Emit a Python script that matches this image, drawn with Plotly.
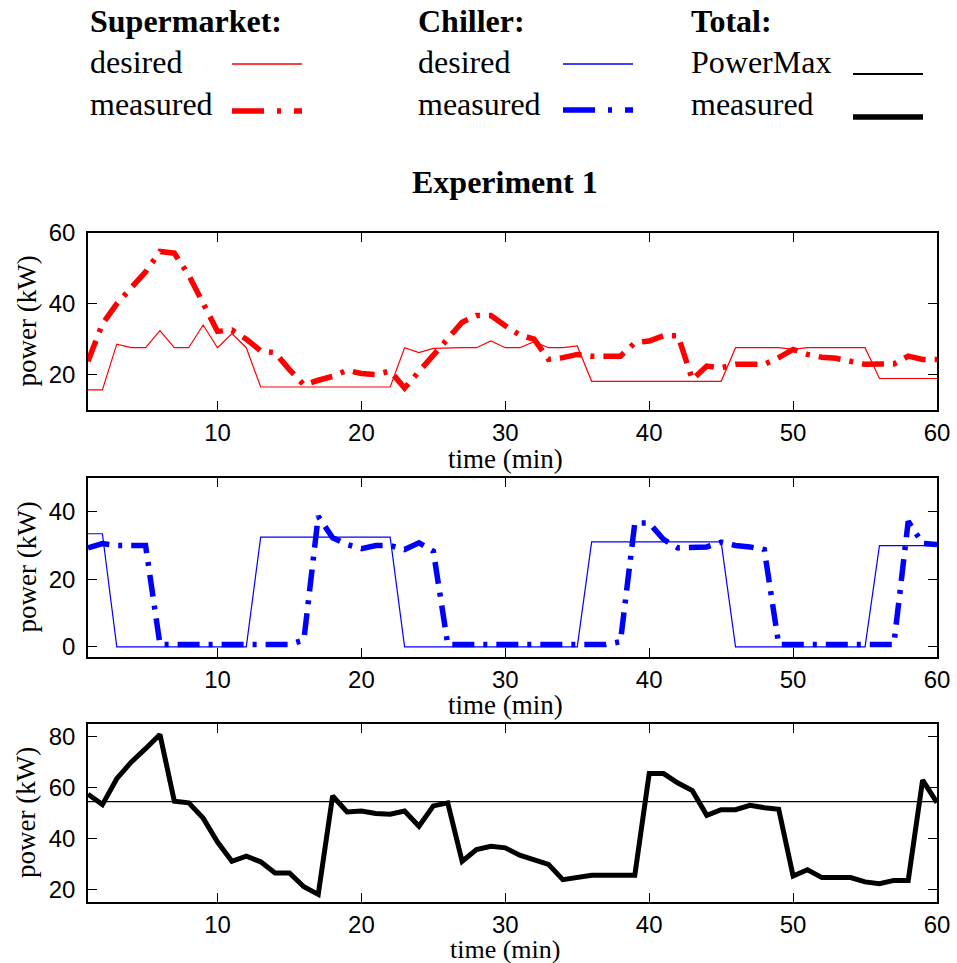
import plotly.graph_objects as go
from plotly.subplots import make_subplots

# time axis (min)
time_min = list(range(1, 61))

# supermarket power (kW)
sm_desired = [15.7, 15.7, 28.6, 27.6, 27.6, 32.4, 27.6, 27.6, 34.0, 27.6,
              31.6, 27.6, 16.5, 16.5, 16.5, 16.5, 16.5, 16.5, 16.5, 16.5,
              16.5, 16.5, 27.6, 26.2, 27.4, 27.6, 27.6, 27.6, 29.5, 27.6,
              27.6, 29.3, 27.6, 27.6, 28.1, 18.1, 18.1, 18.1, 18.1, 18.1,
              18.1, 18.1, 18.1, 18.1, 18.1, 27.6, 27.6, 27.6, 27.6, 27.1,
              27.6, 27.6, 27.6, 27.6, 27.6, 18.9, 18.9, 18.9, 18.9, 18.9]
sm_measured = [23.8, 34.3, 40.0, 44.8, 49.0, 54.8, 54.3, 48.1, 40.0, 32.2,
               32.6, 30.0, 26.7, 26.2, 21.4, 17.1, 18.4, 19.5, 21.2, 20.3,
               20.0, 21.0, 16.2, 21.0, 25.2, 30.5, 34.8, 36.7, 36.7, 33.8,
               31.2, 30.0, 24.3, 24.8, 25.7, 25.2, 25.2, 25.2, 29.0, 29.5,
               31.0, 31.0, 18.6, 22.4, 21.9, 22.9, 22.9, 22.9, 24.8, 27.1,
               25.7, 24.9, 24.6, 23.8, 22.9, 23.0, 23.0, 25.2, 24.3, 24.3]

# chiller power (kW)
ch_desired = [33.5, 33.5, 0.0, 0.0, 0.0, 0.0, 0.0, 0.0, 0.0, 0.0,
              0.0, 0.0, 32.5, 32.5, 32.5, 32.5, 32.5, 32.5, 32.5, 32.5,
              32.5, 32.5, 0.0, 0.0, 0.0, 0.0, 0.0, 0.0, 0.0, 0.0,
              0.0, 0.0, 0.0, 0.0, 0.0, 31.1, 31.1, 31.1, 31.1, 31.1,
              31.1, 31.1, 31.1, 31.1, 31.1, 0.0, 0.0, 0.0, 0.0, 0.0,
              0.0, 0.0, 0.0, 0.0, 0.0, 30.0, 30.0, 30.0, 30.0, 30.0]
ch_measured = [29.3, 30.6, 30.0, 30.0, 30.0, 0.7, 0.7, 0.7, 0.7, 0.7,
               0.7, 0.7, 0.7, 0.7, 0.7, 2.0, 38.7, 32.3, 30.3, 29.1,
               30.0, 30.0, 28.8, 30.8, 28.3, 0.7, 0.7, 0.7, 0.7, 0.7,
               0.7, 0.7, 0.7, 0.7, 0.7, 0.7, 0.7, 1.5, 36.7, 36.7,
               31.8, 29.3, 29.3, 29.6, 31.0, 30.0, 29.6, 28.8, 0.7, 0.7,
               0.7, 0.7, 0.7, 0.7, 0.7, 0.7, 0.7, 37.2, 30.6, 30.3]

# total power (kW)
total_measured = [57.4, 53.3, 63.5, 70.0, 75.3, 80.9, 54.6, 54.0, 48.0, 38.6,
                  31.0, 33.0, 30.8, 26.4, 26.4, 21.0, 18.0, 56.7, 50.4, 50.8,
                  49.8, 49.5, 50.8, 44.8, 52.8, 54.0, 31.0, 35.6, 36.9, 36.3,
                  33.4, 31.8, 29.8, 23.8, 24.5, 25.5, 25.5, 25.5, 25.5, 65.5,
                  65.5, 61.8, 58.8, 49.1, 51.3, 51.3, 53.0, 52.1, 51.5, 25.2,
                  27.7, 24.6, 24.6, 24.6, 22.9, 22.2, 23.5, 23.5, 62.9, 54.1]
power_max = 54.5

# body margin is removed in the page (post_script below), so the figure
# fills the whole window and positions are plain window pixels
W, H = 957, 963
SERIF = "Liberation Serif, Times New Roman, serif"
SANS = "Liberation Sans, Arial, sans-serif"
DASHDOT = "22px,9px,4px,9px"
LEG_DASHDOT = "32px,13px,4px,13px"
RED, BLUE, BLACK = "#ff0000", "#0000ff", "#000000"


def fx(px):
    return px / W


def fy(py):
    return 1 - py / H


def text_note(x, y, text, size=32, anchor="left", angle=0):
    return dict(x=fx(x), y=fy(y), xref="paper", yref="paper", text=text,
                showarrow=False, xanchor=anchor, yanchor="middle", textangle=angle,
                borderpad=0, font=dict(family=SERIF, size=size, color=BLACK))


fig = make_subplots(rows=3, cols=1)

fig.add_trace(go.Scatter(x=time_min, y=sm_desired, mode="lines",
                         line=dict(color=RED, width=1.2)), row=1, col=1)
fig.add_trace(go.Scatter(x=time_min, y=sm_measured, mode="lines",
                         line=dict(color=RED, width=5.5, dash=DASHDOT)), row=1, col=1)
fig.add_trace(go.Scatter(x=time_min, y=ch_desired, mode="lines",
                         line=dict(color=BLUE, width=1.2)), row=2, col=1)
fig.add_trace(go.Scatter(x=time_min, y=ch_measured, mode="lines",
                         line=dict(color=BLUE, width=5.5, dash=DASHDOT)), row=2, col=1)
fig.add_trace(go.Scatter(x=[time_min[0], time_min[-1]], y=[power_max, power_max],
                         mode="lines", line=dict(color=BLACK, width=1.2)), row=3, col=1)
fig.add_trace(go.Scatter(x=time_min, y=total_measured, mode="lines",
                         line=dict(color=BLACK, width=5)), row=3, col=1)

# panel placement: (top px, bottom px, y range, y ticks, x title centre px, title size)
x_dom = [fx(88), fx(937)]
panels = [(233, 410, [10, 60], [20, 40, 60], 459, 27),
          (478, 657, [-3, 50], [0, 20, 40], 705, 27),
          (724, 902, [15, 85], [20, 40, 60, 80], 949, 26)]

axis_common = dict(showline=True, linecolor=BLACK, linewidth=1.5, mirror="allticks",
                   ticks="inside", ticklen=9, tickwidth=1, tickcolor=BLACK,
                   showgrid=False, zeroline=False, automargin=False,
                   tickfont=dict(family=SANS, size=24, color=BLACK))

annotations = []
for i, (top, bottom, yr, yt, xt_y, xt_size) in enumerate(panels, start=1):
    fig.update_xaxes(domain=x_dom, range=[1, 60], tickvals=[10, 20, 30, 40, 50, 60],
                     ticklabelstandoff=0, row=i, col=1, **axis_common)
    fig.update_yaxes(domain=[fy(bottom), fy(top)], range=yr, tickvals=yt,
                     ticklabelstandoff=6, row=i, col=1, **axis_common)
    annotations.append(text_note(505, xt_y, "time (min)", size=xt_size, anchor="center"))
    annotations.append(text_note(26, (top + bottom) / 2, "power (kW)", size=27,
                                 anchor="center", angle=-90))

# header legend drawn as text + line samples
legend_cols = [
    (89, "Supermarket:", [("desired", RED, 1.5, "solid", 64), ("measured", RED, 5.5, LEG_DASHDOT, 111)], 232, 302),
    (417, "Chiller:", [("desired", BLUE, 1.5, "solid", 64), ("measured", BLUE, 5.5, LEG_DASHDOT, 110)], 563, 633),
    (690, "Total:", [("PowerMax", BLACK, 2, "solid", 74), ("measured", BLACK, 5.5, "solid", 117)], 853, 923),
]
label_y = [62, 104]
shapes = []
for x0, head, items, lx0, lx1 in legend_cols:
    annotations.append(text_note(x0, 21, "<b>%s</b>" % head))
    for (label, color, width, dash, ly), ty in zip(items, label_y):
        annotations.append(text_note(x0, ty, label))
        shapes.append(dict(type="line", xref="paper", yref="paper",
                           x0=fx(lx0), x1=fx(lx1), y0=fy(ly), y1=fy(ly),
                           line=dict(color=color, width=width, dash=dash)))

annotations.append(text_note(505, 182, "<b>Experiment 1</b>", anchor="center"))

fig.update_layout(width=W, height=H, margin=dict(l=0, r=0, t=0, b=0),
                  paper_bgcolor="white", plot_bgcolor="white", showlegend=False,
                  annotations=annotations, shapes=shapes)

fig.write_html("out.html", config={"displayModeBar": False},
               post_script="document.body.style.margin = '0px';")
